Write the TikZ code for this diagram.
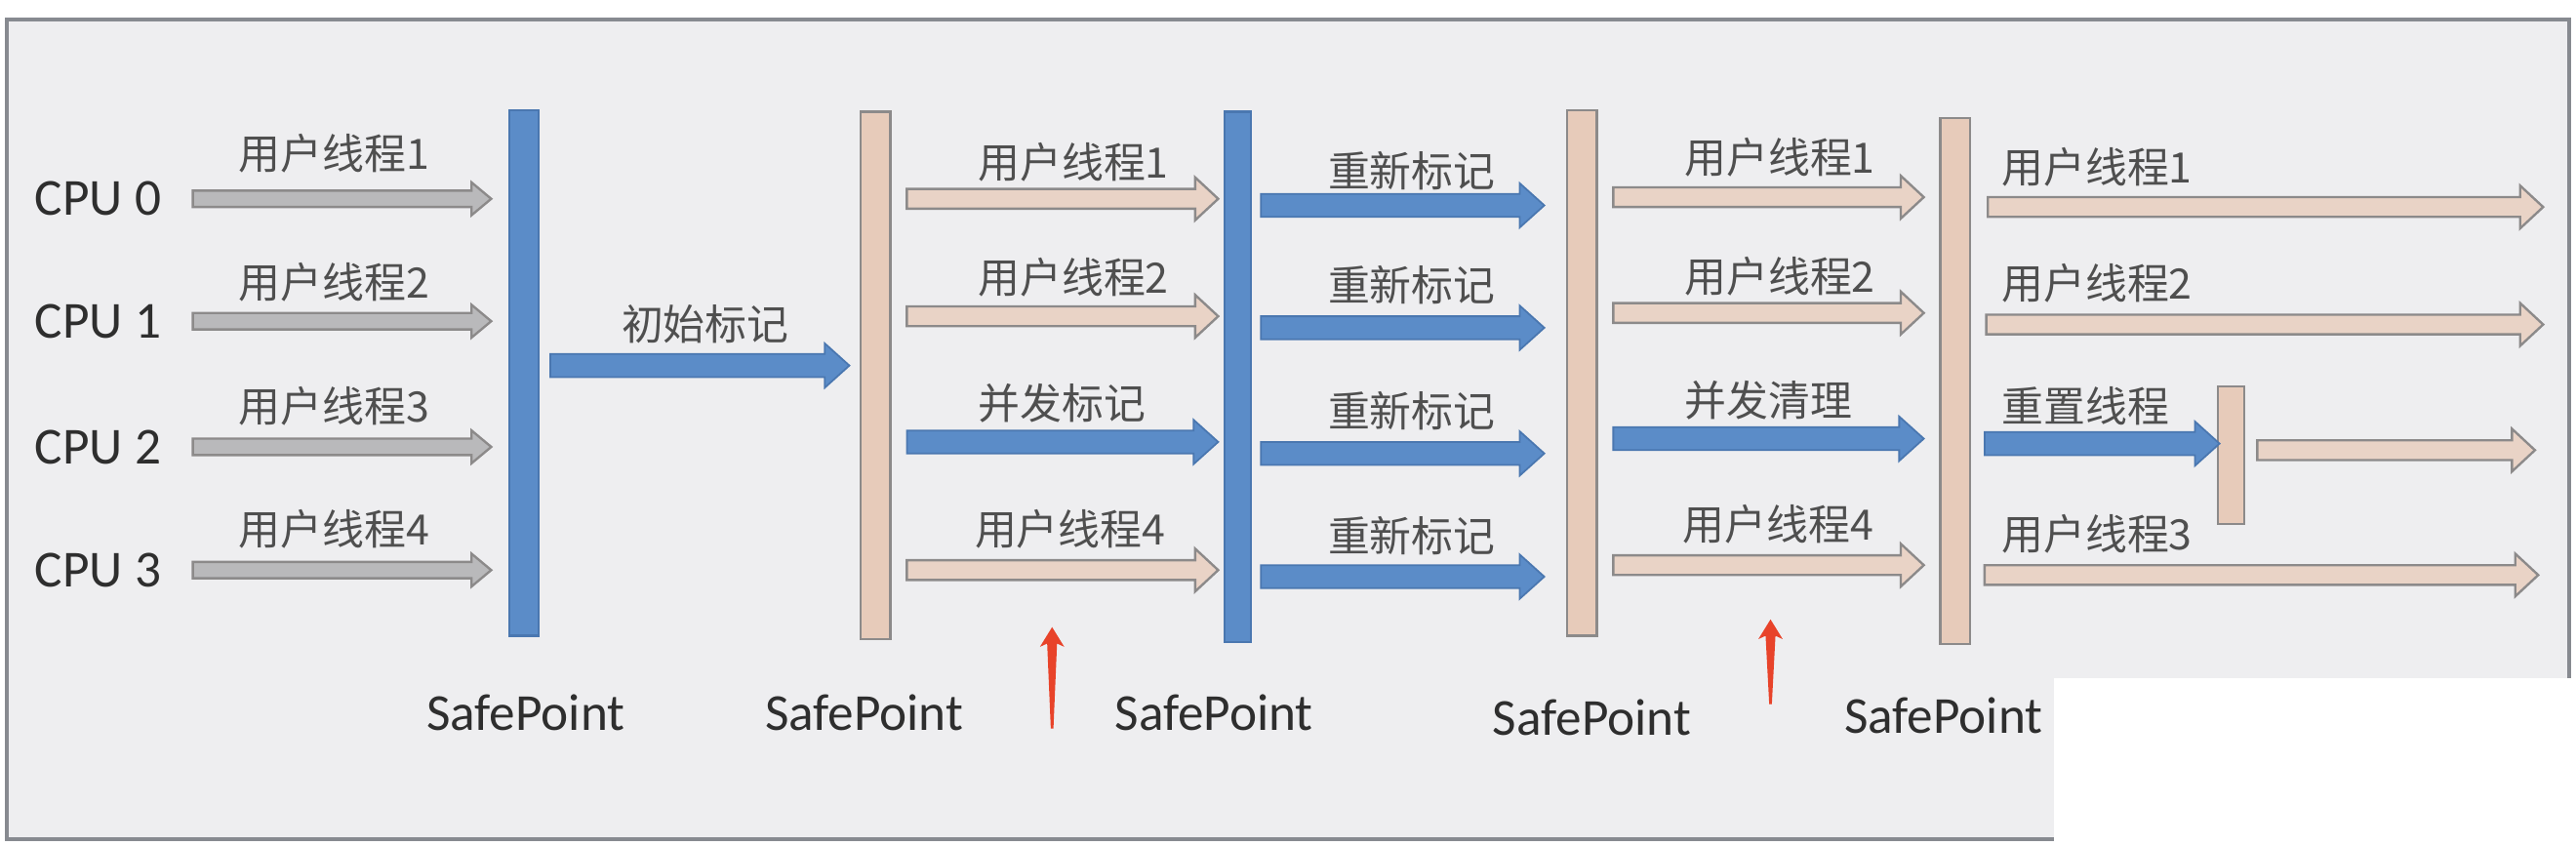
\documentclass[tikz,border=0pt]{standalone}
\usepackage{fontspec}
\setmainfont{Carlito}
\newfontfamily\cjk{Noto Sans CJK SC}
\usetikzlibrary{calc, positioning}

\definecolor{mpblue}{HTML}{5B8CC8}
\definecolor{mpblueline}{HTML}{4A77B0}
\definecolor{mppeach}{HTML}{E9D3C6}
\definecolor{mpbar}{HTML}{E7CBBA}
\definecolor{mpline}{HTML}{8C8A8A}
\definecolor{mpgray}{HTML}{B9B9BB}
\definecolor{mpframe}{HTML}{878A90}
\definecolor{mpback}{HTML}{EEEEF0}
\definecolor{mpred}{HTML}{E8432A}
\definecolor{mptext}{HTML}{2E2E2E}
\definecolor{mplabel}{HTML}{4F4F4F}

\tikzset{
  ends/.code n args={3}{\def\gapA{#1}\def\gapB{#2}\def\laneDy{#3}},
  ends={0.2cm}{0.2cm}{0cm},
  blk/.style n args={3}{to path={let \p1=(\tikztostart), \p2=(\tikztotarget) in
    (\x1+\gapA,\y1+\laneDy+#1) -- (\x2-\gapB-#3,\y1+\laneDy+#1) -- (\x2-\gapB-#3,\y1+\laneDy+#2)
    -- (\x2-\gapB,\y1+\laneDy) -- (\x2-\gapB-#3,\y1+\laneDy-#2) -- (\x2-\gapB-#3,\y1+\laneDy-#1)
    -- (\x1+\gapA,\y1+\laneDy-#1) -- cycle}},
  grayarr/.style={blk={0.1cm}{0.2cm}{0.24cm}, draw=mpline, fill=mpgray, line width=0.8pt},
  peacharr/.style={blk={0.12cm}{0.26cm}{0.28cm}, draw=mpline, fill=mppeach, line width=0.8pt},
  bluearr/.style={blk={0.14cm}{0.27cm}{0.3cm}, draw=mpblueline, fill=mpblue, line width=0.6pt},
  bar/.style={rectangle, inner sep=0pt, outer sep=0pt, minimum width=0.36cm, line width=0.8pt},
  bluebar/.style={bar, draw=mpblueline, fill=mpblue},
  peachbar/.style={bar, draw=mpline, fill=mpbar},
  cpu/.style={anchor=west, inner sep=0pt, text=mptext, font=\fontsize{18}{20}\selectfont},
  safe/.style={inner sep=0pt, text=mptext, font=\fontsize{18}{20}\selectfont},
  lbl/.style={anchor=west, inner sep=0pt, text=mplabel, font=\cjk\fontsize{14.5}{16}\selectfont},
}

\begin{document}
\begin{tikzpicture}[x=0.02cm, y=-0.02cm]
    \useasboundingbox (0,0) rectangle (1568,514.4);
    % frame, cut by the white corner
    \draw[draw=mpframe, fill=mpback, line width=1.4pt] (4.3,11.9) rectangle (1564,510.8);
    \fill[white] (1250,412.8) rectangle (1568,514.4);

    % safepoint bars
    \node[bluebar, minimum height=6.4cm] (sp1) at (319,227) {};
    \node[peachbar, minimum height=6.42cm] (sp2) at (533,228.5) {};
    \node[bluebar, minimum height=6.46cm, minimum width=0.32cm] (sp3) at (753.5,229.5) {};
    \node[peachbar, minimum height=6.4cm] (sp4) at (963,227) {};
    \node[peachbar, minimum height=6.4cm] (sp5) at (1190,232) {};
    \node[peachbar, minimum height=1.68cm, minimum width=0.32cm] (reset) at (1358,277) {};
    \coordinate (mark) at (319,222.5);
    \coordinate (rim) at (1548,121);

    \foreach \i/\y in {0/121,1/195.5,2/272,3/347}
        \node[cpu] (cpu\i) at (21,\y) {CPU \i};

    % user threads before the first safepoint
    \foreach \i in {0,...,3}
        \draw[grayarr, ends={0.38cm}{0.22cm}{0cm}] (cpu\i.east) to (sp1.west |- cpu\i.east);
    \draw[bluearr, ends={0.14cm}{0.14cm}{0cm}] (sp1.east |- mark) to (sp2.west |- mark);

    \draw[peacharr, ends={0.2cm}{0.08cm}{0cm}] (sp2.east |- cpu0) to (sp3.west |- cpu0);
    \draw[peacharr, ends={0.2cm}{0.08cm}{0.06cm}] (sp2.east |- cpu1) to (sp3.west |- cpu1);
    \draw[bluearr, ends={0.2cm}{0.08cm}{0.06cm}] (sp2.east |- cpu2) to (sp3.west |- cpu2);
    \draw[peacharr, ends={0.2cm}{0.08cm}{0cm}] (sp2.east |- cpu3) to (sp3.west |- cpu3);

    \foreach \i in {0,...,3}
        \draw[bluearr, ends={0.12cm}{0.28cm}{-0.08cm}] (sp3.east |- cpu\i) to (sp4.west |- cpu\i);

    \draw[peacharr, ends={0.2cm}{0.2cm}{0.02cm}] (sp4.east |- cpu0) to (sp5.west |- cpu0);
    \draw[peacharr, ends={0.2cm}{0.2cm}{0.1cm}] (sp4.east |- cpu1) to (sp5.west |- cpu1);
    \draw[bluearr, ends={0.2cm}{0.2cm}{0.1cm}] (sp4.east |- cpu2) to (sp5.west |- cpu2);
    \draw[peacharr, ends={0.2cm}{0.2cm}{0.06cm}] (sp4.east |- cpu3) to (sp5.west |- cpu3);

    \draw[peacharr, ends={0.22cm}{0cm}{-0.1cm}] (sp5.east |- cpu0) to (rim |- cpu0);
    \draw[peacharr, ends={0.2cm}{0cm}{-0.04cm}] (sp5.east |- cpu1) to (rim |- cpu1);
    \draw[bluearr, ends={0.18cm}{-0.02cm}{0.04cm}] (sp5.east |- cpu2) to (reset.west |- cpu2);
    \draw[peacharr, ends={0.16cm}{0.1cm}{-0.04cm}] (reset.east |- cpu2) to (rim |- cpu2);
    \draw[peacharr, ends={0.18cm}{0.06cm}{-0.06cm}] (sp5.east |- cpu3) to (rim |- cpu3);

    % labels over the arrows
    \foreach \y/\t [count=\i] in {93.5/1,171.6/2,247/3,322/4}
        \node[lbl] (ua\i) at (145,\y) {用户线程\t};
    \node[lbl] (init) at (378,197.5) {初始标记};
    \node[lbl] (ub1) at (595,98.7) {用户线程1};
    \node[lbl] (ub2) at (595,169) {用户线程2};
    \node[lbl] (conc) at (595,245.7) {并发标记};
    \node[lbl] (ub4) at (593,322) {用户线程4};
    \foreach \y [count=\i] in {104,173.6,249.8,326}
        \node[lbl] (remark\i) at (808,\y) {重新标记};
    \node[lbl] (uc1) at (1025,95.8) {用户线程1};
    \node[lbl] (uc2) at (1025,168) {用户线程2};
    \node[lbl] (sweep) at (1025,243.6) {并发清理};
    \node[lbl] (uc4) at (1024,319) {用户线程4};
    \node[lbl] (ud1) at (1218,101.5) {用户线程1};
    \node[lbl] (ud2) at (1218,172.5) {用户线程2};
    \node[lbl] (rst) at (1218,247) {重置线程};
    \node[lbl] (ud3) at (1218,325) {用户线程3};

    \foreach \x/\y [count=\i] in {320/433.6,526/433.6,739/433.6,969/436.5,1183/435.5}
        \node[safe] (safe\i) at (\x,\y) {SafePoint};

    % red pointers
    \foreach \x/\t/\b in {640.4/381.7/443.5, 1077.7/377/428.6}
        \fill[mpred] (\x-0.8,\b) -- (\x-3,\t+10) -- (\x-7.4,\t+12) -- (\x,\t)
            -- (\x+7.4,\t+12) -- (\x+3,\t+10) -- (\x+0.8,\b) -- cycle;
\end{tikzpicture}
\end{document}
